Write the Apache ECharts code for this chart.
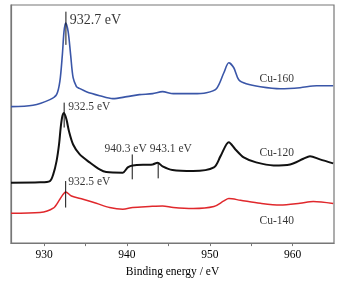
<!DOCTYPE html>
<html><head><meta charset="utf-8">
<script src="https://cdn.jsdelivr.net/npm/echarts@6/dist/echarts.min.js"></script>
<style>html,body{margin:0;padding:0;background:#fff}#c{width:348px;height:283px}</style>
</head><body><div id="c"></div>
<script>
// Binding energy (eV) and intensity (arbitrary units, offset stacked)
const cu160E = [926.0,928.65,930.7,931.5,931.9,932.2,932.4,932.6,932.9,933.2,933.5,933.9,934.1,935.1,936.7,938.3,940.0,941.5,943.1,944.3,945.6,948.0,949.6,950.8,951.7,952.3,952.9,953.5,954.4,956.1,958.5,960.9,962.9,964.9];
const cu160I = [137,138.3,144,149,162.3,189,212.3,221,212.3,189,166,157,156,152,148,145,147,149,150,152,150,150,151,155,171,181,176,164,160,157,155,156,158,158];
const cu120E = [926.0,929.5,930.7,931.1,931.5,931.8,932.0,932.2,932.4,932.7,933.0,933.5,934.3,935.5,936.7,937.5,939.5,940.1,940.7,943.1,943.7,944.3,945.5,948.0,950.5,951.3,952.3,953.1,954.1,955.6,957.7,959.7,961.3,962.1,963.3,964.9];
const cu120I = [60.7,61,62.3,69,82.3,99,116,127.3,130.7,124,112.3,99,89,81,74,71.3,70.7,76,78,79,80.7,77,73.3,72.3,76,87.3,101.3,94,86,81,78,79,84.7,87.3,84,80];
const cu140E = [926.0,929.5,931.1,931.9,932.3,932.6,933.3,934.7,936.3,937.9,939.5,940.7,942.7,944.3,945.6,948.0,950.5,951.7,952.3,953.7,956.1,958.5,960.9,962.5,964.9];
const cu140I = [30,30.7,35,44,49,51.3,47.3,44,40,35.7,34,35.7,36.7,37.3,35.7,34.7,36.7,42.3,44.7,43,40,38.3,40,41.7,39.7];

// Peak marker lines: energy, lower and upper intensity
const markerE  = [932.63, 932.42, 932.6, 940.64, 943.77];
const markerLo = [199, 116, 35.7, 64, 65];
const markerHi = [232.3, 141, 62.3, 89, 80.7];
// Peak annotation texts and anchor (left edge) positions
const peakText = ['932.7 eV','932.5 eV','932.5 eV','940.3 eV','943.1 eV'];
const peakTextE = [933.1, 932.9, 932.9, 937.3, 942.75];
const peakTextI = [224, 136.3, 61.3, 94, 94];
const peakTextSize = [14, 11.5, 11.5, 11.5, 11.5];
// Sample names
const sampleText = ['Cu-160','Cu-120','Cu-140'];
const sampleTextE = [956.0, 956.0, 956.0];
const sampleTextI = [165, 90, 22.3];

const xTicks = [930,935,940,945,950,955,960];
const xLabels = [930,940,950,960];

const FONT = 'Liberation Serif';
const zip = (a,b) => a.map((v,i)=>[v,b[i]]);

const series = [
  {type:'line', data: zip(cu160E,cu160I), smooth:0.3, symbol:'none', lineStyle:{color:'#3a56a8', width:1.6}},
  {type:'line', data: zip(cu120E,cu120I), smooth:0.3, symbol:'none', lineStyle:{color:'#111', width:2}},
  {type:'line', data: zip(cu140E,cu140I), smooth:0.3, symbol:'none', lineStyle:{color:'#e0282c', width:1.5}}
];
markerE.forEach((e,i)=>{
  series.push({type:'line', data:[[e,markerLo[i]],[e,markerHi[i]]], symbol:'none', lineStyle:{color:'#111', width:1}, z:5});
});
series.push({
  type:'scatter', symbolSize:0, silent:true,
  data: peakText.map((t,i)=>({value:[peakTextE[i],peakTextI[i]], name:t,
    label:{show:true, position:'right', distance:0, formatter:t, fontFamily:FONT, fontSize:peakTextSize[i], color:'#000'}}))
});
series.push({
  type:'scatter', symbolSize:0, silent:true,
  data: sampleText.map((t,i)=>({value:[sampleTextE[i],sampleTextI[i]], name:t,
    label:{show:true, position:'right', distance:0, formatter:t, fontFamily:FONT, fontSize:11.5, color:'#000'}}))
});

const chart = echarts.init(document.getElementById('c'), null, {renderer:'canvas'});
chart.setOption({
  animation:false,
  backgroundColor:'#fff',
  grid:{left:11, right:14, top:5, bottom:39, show:true, borderColor:'#777', borderWidth:1.2, backgroundColor:'transparent'},
  xAxis:{type:'value', min:926, max:965,
    name:'Binding energy / eV', nameLocation:'middle', nameGap:21,
    nameTextStyle:{fontFamily:FONT, fontSize:11.5, color:'#000'},
    axisLine:{show:true, lineStyle:{color:'#777', width:1.2}},
    axisTick:{show:true, customValues:xTicks, length:3, inside:false, lineStyle:{color:'#777'}},
    axisLabel:{customValues:xLabels, margin:6, fontFamily:FONT, fontSize:11.5, color:'#000'},
    splitLine:{show:false}},
  yAxis:{type:'value', min:0, max:239,
    axisLine:{show:true, lineStyle:{color:'#777', width:1.2}},
    axisTick:{show:false}, axisLabel:{show:false}, splitLine:{show:false}},
  series
});
</script></body></html>
